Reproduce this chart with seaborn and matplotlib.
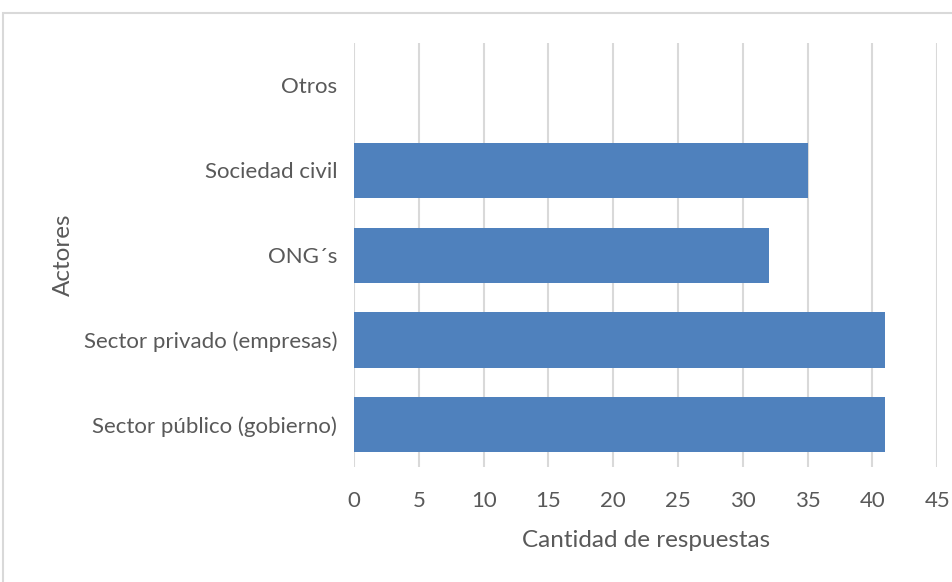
import matplotlib
matplotlib.use('Agg')
import matplotlib.pyplot as plt
import seaborn as sns
import pandas as pd
from matplotlib.patches import Rectangle

# datos
actores = ['Otros', 'Sociedad civil', 'ONG´s', 'Sector privado (empresas)', 'Sector público (gobierno)']
respuestas = [0, 35, 32, 41, 41]
ticks_x = [0, 5, 10, 15, 20, 25, 30, 35, 40, 45]

sns.set_style('white')
plt.rcParams['font.family'] = ['Lato', 'DejaVu Sans']

gris = '#595959'

df = pd.DataFrame({'Actores': actores, 'Cantidad de respuestas': respuestas})

fig = plt.figure(figsize=(9.53, 5.82), dpi=100)
ax = fig.add_axes([0.3715, 0.197, 0.612, 0.729])

sns.barplot(data=df, x='Cantidad de respuestas', y='Actores', orient='h',
            color='#4F81BD', saturation=1, width=0.65, ax=ax, zorder=3,
            linewidth=0)

ax.set_xlim(0, 45)
ax.set_xticks(ticks_x)
ax.grid(axis='x', color='#d9d9d9', linewidth=1.5, zorder=0)
ax.set_axisbelow(True)
for s in ax.spines.values():
    s.set_visible(False)

ax.tick_params(axis='both', length=0, labelcolor=gris, labelsize=16)
ax.tick_params(axis='x', pad=17)
ax.tick_params(axis='y', pad=12)
ax.set_xlabel('Cantidad de respuestas', fontsize=17.5, color=gris, labelpad=14)
ax.set_ylabel('Actores', fontsize=17.5, color=gris, labelpad=7)

# marco gris del gráfico
fig.patches.append(Rectangle((3 / 953, -0.1), 1.1, 1 - 13 / 582 + 0.1,
                             transform=fig.transFigure, fill=False,
                             edgecolor='#d9d9d9', linewidth=1.5))

fig.savefig('out.png', dpi=100)
